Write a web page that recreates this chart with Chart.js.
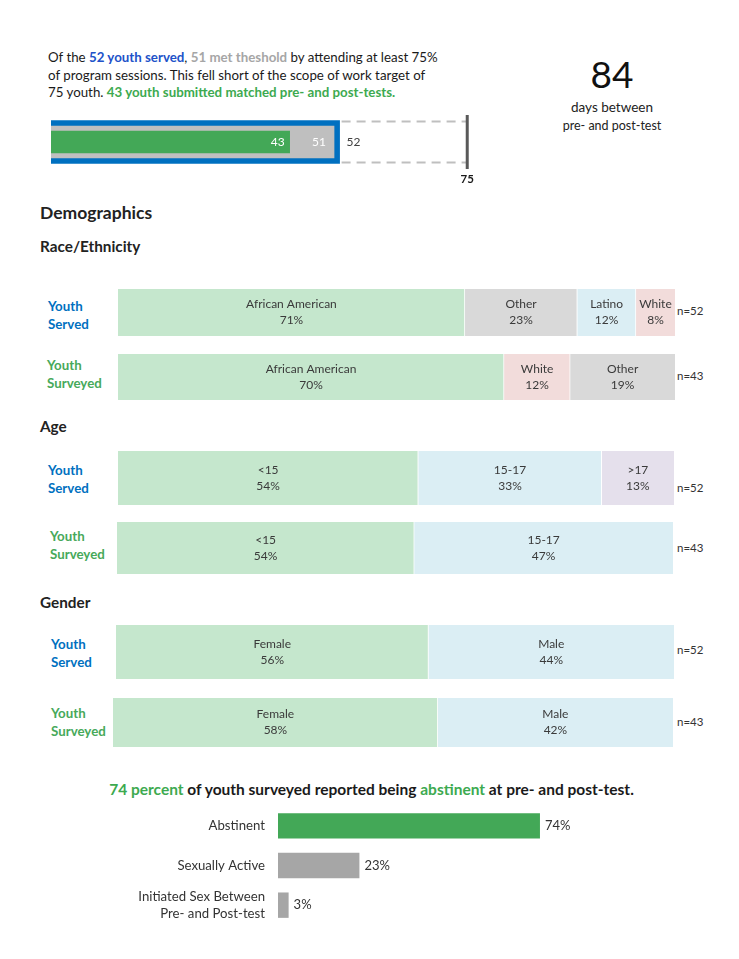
<!DOCTYPE html>
<html>
<head>
<meta charset="utf-8">
<script src="https://cdn.jsdelivr.net/npm/chart.js@4.4.1/dist/chart.umd.min.js"></script>
<style>
  html,body{margin:0;padding:0;background:#fff;}
  body{width:739px;height:959px;position:relative;overflow:hidden;font-family:Lato,"Open Sans",sans-serif;color:#222;}
  .abs{position:absolute;white-space:nowrap;}
  canvas{position:absolute;}
  .intro{left:48px;top:49px;font-size:13.3px;line-height:17.5px;color:#1a1a1a;}
  .b{font-weight:bold;}
  .blue{color:#2152C9;} .gray{color:#A6A6A6;} .green{color:#3DAA50;}
  .big{left:562px;width:100px;text-align:center;}
  .rowlbl{font-size:13.3px;font-weight:bold;line-height:17.5px;}
  .served{color:#0070C0;} .surveyed{color:#47A95A;}
  .n{font-size:11.5px;color:#333;}
</style>
</head>
<body>
<div class="abs intro">Of the <span class="b blue">52 youth served</span>, <span class="b gray">51 met theshold</span> by attending at least 75%<br>of program sessions. This fell short of the scope of work target of<br>75 youth. <span class="b green">43 youth submitted matched pre- and post-tests.</span></div>

<div class="abs big" style="top:52px;font-size:37px;line-height:44px;color:#111;">84</div>
<div class="abs big" style="top:99px;font-size:13.5px;color:#222;">days between</div>
<div class="abs big" style="top:118px;font-size:12.5px;color:#222;">pre- and post-test</div>

<canvas id="reach" width="460" height="86" style="left:40px;top:105px;"></canvas>

<div class="abs" style="left:40px;top:202px;font-size:17.5px;font-weight:bold;">Demographics</div>
<div class="abs" style="left:40px;top:237px;font-size:15.3px;font-weight:bold;">Race/Ethnicity</div>
<div class="abs" style="left:40px;top:417px;font-size:15.3px;font-weight:bold;">Age</div>
<div class="abs" style="left:40px;top:593px;font-size:15.3px;font-weight:bold;">Gender</div>

<div class="abs rowlbl served" style="left:48px;top:298px;">Youth<br>Served</div>
<div class="abs rowlbl surveyed" style="left:47px;top:357px;">Youth<br>Surveyed</div>
<div class="abs rowlbl served" style="left:48px;top:462px;">Youth<br>Served</div>
<div class="abs rowlbl surveyed" style="left:50px;top:528px;">Youth<br>Surveyed</div>
<div class="abs rowlbl served" style="left:51px;top:636px;">Youth<br>Served</div>
<div class="abs rowlbl surveyed" style="left:51px;top:705px;">Youth<br>Surveyed</div>

<div class="abs n" id="n1" style="left:677px;top:304px;"></div>
<div class="abs n" id="n2" style="left:677px;top:369px;"></div>
<div class="abs n" id="n3" style="left:677px;top:481px;"></div>
<div class="abs n" id="n4" style="left:677px;top:541px;"></div>
<div class="abs n" id="n5" style="left:677px;top:643px;"></div>
<div class="abs n" id="n6" style="left:677px;top:715px;"></div>

<canvas id="race1" width="557" height="47" style="left:118px;top:289px;"></canvas>
<canvas id="race2" width="557" height="46" style="left:118px;top:354px;"></canvas>
<canvas id="age1" width="556" height="54" style="left:118px;top:451px;"></canvas>
<canvas id="age2" width="556" height="52" style="left:117px;top:522px;"></canvas>
<canvas id="gen1" width="558" height="54" style="left:116px;top:625px;"></canvas>
<canvas id="gen2" width="560" height="49" style="left:113px;top:698px;"></canvas>

<div class="abs" style="left:0;width:743px;text-align:center;top:780px;font-size:15.5px;font-weight:bold;color:#1a1a1a;"><span class="green">74 percent</span> of youth surveyed reported being <span class="green">abstinent</span> at pre- and post-test.</div>
<canvas id="behav" width="532" height="119" style="left:100px;top:806px;"></canvas>

<script>
// ---------- DATA ----------
const servedCount = 52;
const thresholdCount = 51;
const surveyedCount = 43;
const targetCount = 75;

const raceServedLabels = ['African American', 'Other', 'Latino', 'White'];
const raceServedValues = [71, 23, 12, 8];
const raceSurveyedLabels = ['African American', 'White', 'Other'];
const raceSurveyedValues = [70, 12, 19];

const ageServedLabels = ['<15', '15-17', '>17'];
const ageServedValues = [54, 33, 13];
const ageSurveyedLabels = ['<15', '15-17'];
const ageSurveyedValues = [54, 47];

const genderServedLabels = ['Female', 'Male'];
const genderServedValues = [56, 44];
const genderSurveyedLabels = ['Female', 'Male'];
const genderSurveyedValues = [58, 42];

const behaviorLabels = ['Abstinent', 'Sexually Active', ['Initiated Sex Between', 'Pre- and Post-test']];
const behaviorValues = [74, 23, 3];

// ---------- STYLES ----------
const FONT = 'Lato, "Open Sans", sans-serif';
const segColors = {
  'African American': '#C5E7CD', '<15': '#C5E7CD', 'Female': '#C5E7CD',
  'Other': '#D9D9D9',
  'Latino': '#DBEEF4', '15-17': '#DBEEF4', 'Male': '#DBEEF4',
  'White': '#F2DCDB',
  '>17': '#E5E0EC'
};

['n1','n3','n5'].forEach(id => document.getElementById(id).textContent = 'n=' + servedCount);
['n2','n4','n6'].forEach(id => document.getElementById(id).textContent = 'n=' + surveyedCount);

// ---------- Stacked demographic rows ----------
const segLabelPlugin = {
  id: 'segLabels',
  afterDatasetsDraw(chart) {
    const ctx = chart.ctx;
    ctx.save();
    ctx.fillStyle = '#3a3a3a';
    ctx.font = '12px ' + FONT;
    ctx.textAlign = 'center';
    ctx.textBaseline = 'middle';
    chart.data.datasets.forEach((ds, i) => {
      const el = chart.getDatasetMeta(i).data[0];
      const cx = (el.x + el.base) / 2;
      ctx.fillText(ds.label, cx, el.y - 8);
      ctx.fillText(ds.data[0] + '%', cx, el.y + 8);
    });
    ctx.restore();
  }
};

function stackRow(id, labels, values) {
  const total = values.reduce((a, b) => a + b, 0);
  new Chart(document.getElementById(id), {
    type: 'bar',
    data: {
      labels: [''],
      datasets: labels.map((l, i) => ({
        label: l,
        data: [values[i]],
        backgroundColor: segColors[l],
        borderColor: '#ffffff',
        borderWidth: i < labels.length - 1 ? {right: 1, left: 0, top: 0, bottom: 0} : 0,
        borderSkipped: false,
        barPercentage: 1,
        categoryPercentage: 1
      }))
    },
    options: {
      indexAxis: 'y',
      responsive: false,
      animation: false,
      devicePixelRatio: 1,
      layout: {padding: 0},
      plugins: {legend: {display: false}, tooltip: {enabled: false}},
      scales: {
        x: {stacked: true, display: false, min: 0, max: total},
        y: {stacked: true, display: false}
      }
    },
    plugins: [segLabelPlugin]
  });
}

stackRow('race1', raceServedLabels, raceServedValues);
stackRow('race2', raceSurveyedLabels, raceSurveyedValues);
stackRow('age1', ageServedLabels, ageServedValues);
stackRow('age2', ageSurveyedLabels, ageSurveyedValues);
stackRow('gen1', genderServedLabels, genderServedValues);
stackRow('gen2', genderSurveyedLabels, genderSurveyedValues);

// ---------- Reach chart ----------
const reachPlugin = {
  id: 'reachDeco',
  afterDatasetsDraw(chart) {
    const ctx = chart.ctx;
    const xs = chart.scales.x;
    const blue = chart.getDatasetMeta(2).data[0];
    const gray = chart.getDatasetMeta(1).data[0];
    const green = chart.getDatasetMeta(0).data[0];
    const top = blue.y - blue.height / 2 + 1;
    const bot = blue.y + blue.height / 2 - 1;
    const x52 = xs.getPixelForValue(servedCount);
    const x75 = xs.getPixelForValue(targetCount);
    ctx.save();
    ctx.strokeStyle = '#BFBFBF';
    ctx.lineWidth = 2;
    ctx.setLineDash([9, 6]);
    ctx.beginPath();
    ctx.moveTo(x52 + 2, top); ctx.lineTo(x75, top);
    ctx.moveTo(x52 + 2, bot); ctx.lineTo(x75, bot);
    ctx.stroke();
    ctx.setLineDash([]);
    ctx.strokeStyle = '#595959';
    ctx.lineWidth = 3;
    ctx.beginPath();
    ctx.moveTo(x75, chart.chartArea.top); ctx.lineTo(x75, chart.chartArea.bottom);
    ctx.stroke();
    ctx.fillStyle = '#1a1a1a';
    ctx.font = 'bold 11.5px ' + FONT;
    ctx.textAlign = 'center';
    ctx.textBaseline = 'middle';
    ctx.fillText(String(targetCount), x75, chart.chartArea.bottom + 10);
    ctx.font = '12px ' + FONT;
    ctx.textAlign = 'right';
    ctx.fillStyle = '#ffffff';
    ctx.fillText(String(surveyedCount), green.x - 5, green.y);
    ctx.fillText(String(thresholdCount), gray.x - 8, gray.y);
    ctx.textAlign = 'left';
    ctx.fillStyle = '#404040';
    ctx.fillText(String(servedCount), blue.x + 7, blue.y);
    ctx.restore();
  }
};

new Chart(document.getElementById('reach'), {
  type: 'bar',
  data: {
    labels: ['Youth'],
    datasets: [
      {label: 'Surveyed', data: [surveyedCount], backgroundColor: '#43A857', barThickness: 22, grouped: false},
      {label: 'Threshold', data: [thresholdCount], backgroundColor: '#BFBFBF', barThickness: 32, grouped: false},
      {label: 'Served', data: [servedCount], backgroundColor: '#0070C0', barThickness: 43, grouped: false}
    ]
  },
  options: {
    indexAxis: 'y',
    responsive: false,
    animation: false,
    devicePixelRatio: 1,
    layout: {padding: {left: 11, right: 20, top: 10, bottom: 22}},
    plugins: {legend: {display: false}, tooltip: {enabled: false}},
    scales: {
      x: {display: false, min: 0, max: 77.3},
      y: {display: false}
    }
  },
  plugins: [reachPlugin]
});

// ---------- Behavior chart ----------
const valuePlugin = {
  id: 'valueLabels',
  afterDatasetsDraw(chart) {
    const ctx = chart.ctx;
    ctx.save();
    ctx.fillStyle = '#333';
    ctx.font = '13px ' + FONT;
    ctx.textAlign = 'left';
    ctx.textBaseline = 'middle';
    chart.getDatasetMeta(0).data.forEach((el, i) => {
      ctx.fillText(chart.data.datasets[0].data[i] + '%', el.x + 5, el.y);
    });
    ctx.restore();
  }
};

new Chart(document.getElementById('behav'), {
  type: 'bar',
  data: {
    labels: behaviorLabels,
    datasets: [{
      data: behaviorValues,
      backgroundColor: ['#43A857', '#A6A6A6', '#A6A6A6'],
      barPercentage: 0.64,
      categoryPercentage: 1
    }]
  },
  options: {
    indexAxis: 'y',
    responsive: false,
    animation: false,
    devicePixelRatio: 1,
    layout: {padding: 0},
    plugins: {legend: {display: false}, tooltip: {enabled: false}},
    scales: {
      x: {display: false, min: 0, max: 100},
      y: {
        grid: {display: false, drawTicks: false},
        border: {display: false},
        ticks: {color: '#333', font: {size: 13.2, family: FONT, lineHeight: 1.35}, padding: 13},
        afterFit(scale) { scale.width = 178; scale.paddingTop = 0; scale.paddingBottom = 0; }
      }
    }
  },
  plugins: [valuePlugin]
});
</script>
</body>
</html>
